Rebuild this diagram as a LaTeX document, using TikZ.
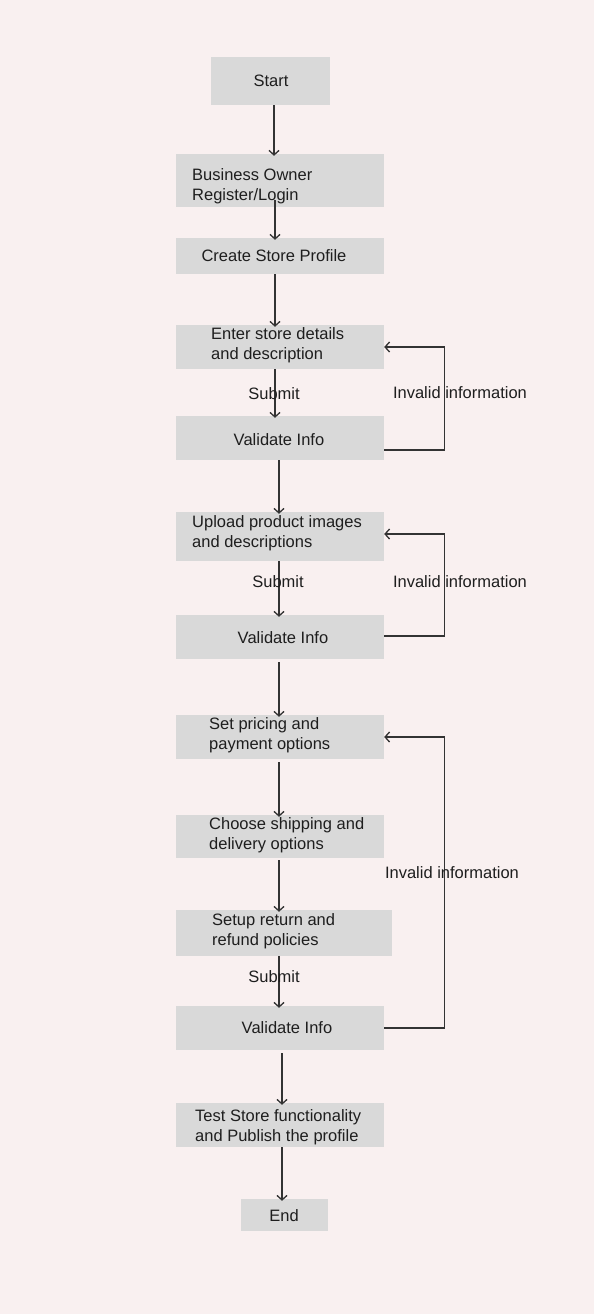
\documentclass[tikz,border=0pt]{standalone}
\usepackage{fontspec}
\setmainfont{Liberation Sans}
\usetikzlibrary{arrows.meta}
\definecolor{bg}{HTML}{F9F0F0}
\definecolor{boxfill}{HTML}{D9D9D9}
\definecolor{ink}{HTML}{1E1E1E}
\definecolor{wire}{HTML}{333333}
\begin{document}
\begin{tikzpicture}[x=1pt,y=-1pt,
  box/.style={fill=boxfill,draw=none,inner sep=0pt},
  txt/.style={font=\fontsize{16.5}{20}\selectfont,text=ink,inner sep=0pt,align=left},
  arr/.style={draw=wire,line width=1.3pt,-{Straight Barb[length=4.5pt,width=10pt]},shorten >=-2pt},
  loop/.style={draw=wire,line width=1.3pt,-{Straight Barb[length=4.5pt,width=10pt]}}]
\fill[bg] (0,0) rectangle (594,1314);
\useasboundingbox (0,0) rectangle (594,1314);
% boxes
\node[box,minimum width=119pt,minimum height=48pt] (start) at (270.5,81) {};
\node[txt] (tstart) at (271,81) {Start};
\node[box,minimum width=208pt,minimum height=53pt] (bo) at (280,180.5) {};
\node[txt,anchor=west] (tbo) at (192,186) {Business Owner\\Register/Login};
\node[box,minimum width=208pt,minimum height=36pt] (create) at (280,256) {};
\node[txt] (tcreate) at (274,256) {Create Store Profile};
\node[box,minimum width=208pt,minimum height=44pt] (enter) at (280,347) {};
\node[txt,anchor=west] (tenter) at (211,345) {Enter store details\\and description};
\node[box,minimum width=208pt,minimum height=44pt] (v1) at (280,438) {};
\node[txt] (tv1) at (279,440) {Validate Info};
\node[box,minimum width=208pt,minimum height=49pt] (upload) at (280,536.5) {};
\node[txt,anchor=west] (tupload) at (192,533) {Upload product images\\and descriptions};
\node[box,minimum width=208pt,minimum height=44pt] (v2) at (280,637) {};
\node[txt] (tv2) at (283,638) {Validate Info};
\node[box,minimum width=208pt,minimum height=44pt] (price) at (280,737) {};
\node[txt,anchor=west] (tprice) at (209,735) {Set pricing and\\payment options};
\node[box,minimum width=208pt,minimum height=43pt] (ship) at (280,836.5) {};
\node[txt,anchor=west] (tship) at (209,835) {Choose shipping and\\delivery options};
\node[box,minimum width=216pt,minimum height=46pt] (ret) at (284,933) {};
\node[txt,anchor=west] (tret) at (212,931.5) {Setup return and\\refund policies};
\node[box,minimum width=208pt,minimum height=44pt] (v3) at (280,1028) {};
\node[txt] (tv3) at (287,1028) {Validate Info};
\node[box,minimum width=208pt,minimum height=44pt] (test) at (280,1125) {};
\node[txt,anchor=west] (ttest) at (195,1127) {Test Store functionality\\and Publish the profile};
\node[box,minimum width=87pt,minimum height=32pt] (end) at (284.5,1215) {};
\node[txt] (tend) at (284,1216) {End};
% main flow
\draw[arr] (start.south -| 274,0) -- (bo.north -| 274,0);
\draw[arr] ([yshift=7pt]bo.south -| 275,0) -- (create.north -| 275,0);
\draw[arr] (create.south -| 275,0) -- (enter.north -| 275,0);
\draw[arr] (enter.south -| 275,0) -- (v1.north -| 275,0);
\draw[arr] (v1.south -| 279,0) -- (upload.north -| 279,0);
\draw[arr] (upload.south -| 279,0) -- (v2.north -| 279,0);
\draw[arr] ([yshift=-3pt]v2.south -| 279,0) -- (price.north -| 279,0);
\draw[arr] ([yshift=-3pt]price.south -| 279,0) -- (ship.north -| 279,0);
\draw[arr] ([yshift=-2pt]ship.south -| 279,0) -- (ret.north -| 279,0);
\draw[arr] (ret.south -| 279,0) -- (v3.north -| 279,0);
\draw[arr] ([yshift=-3pt]v3.south -| 282,0) -- (test.north -| 282,0);
\draw[arr] (test.south -| 282,0) -- (end.north -| 282,0);
% submit labels
\node[txt] (s1) at (274,394) {Submit};
\node[txt] (s2) at (278,582) {Submit};
\node[txt] (s3) at (274,977) {Submit};
% loops
\draw[loop] ([yshift=-12pt]v1.east) -- ++(60,0) |- (enter.east);
\draw[loop] ([yshift=1pt]v2.east) -- ++(60,0) |- ([yshift=2.5pt]upload.east);
\draw[loop] (v3.east) -- ++(60,0) |- (price.east);
\node[txt] (i1) at (460,393) {Invalid information};
\node[txt] (i2) at (460,582) {Invalid information};
\node[txt] (i3) at (452,873) {Invalid information};
\end{tikzpicture}
\end{document}
